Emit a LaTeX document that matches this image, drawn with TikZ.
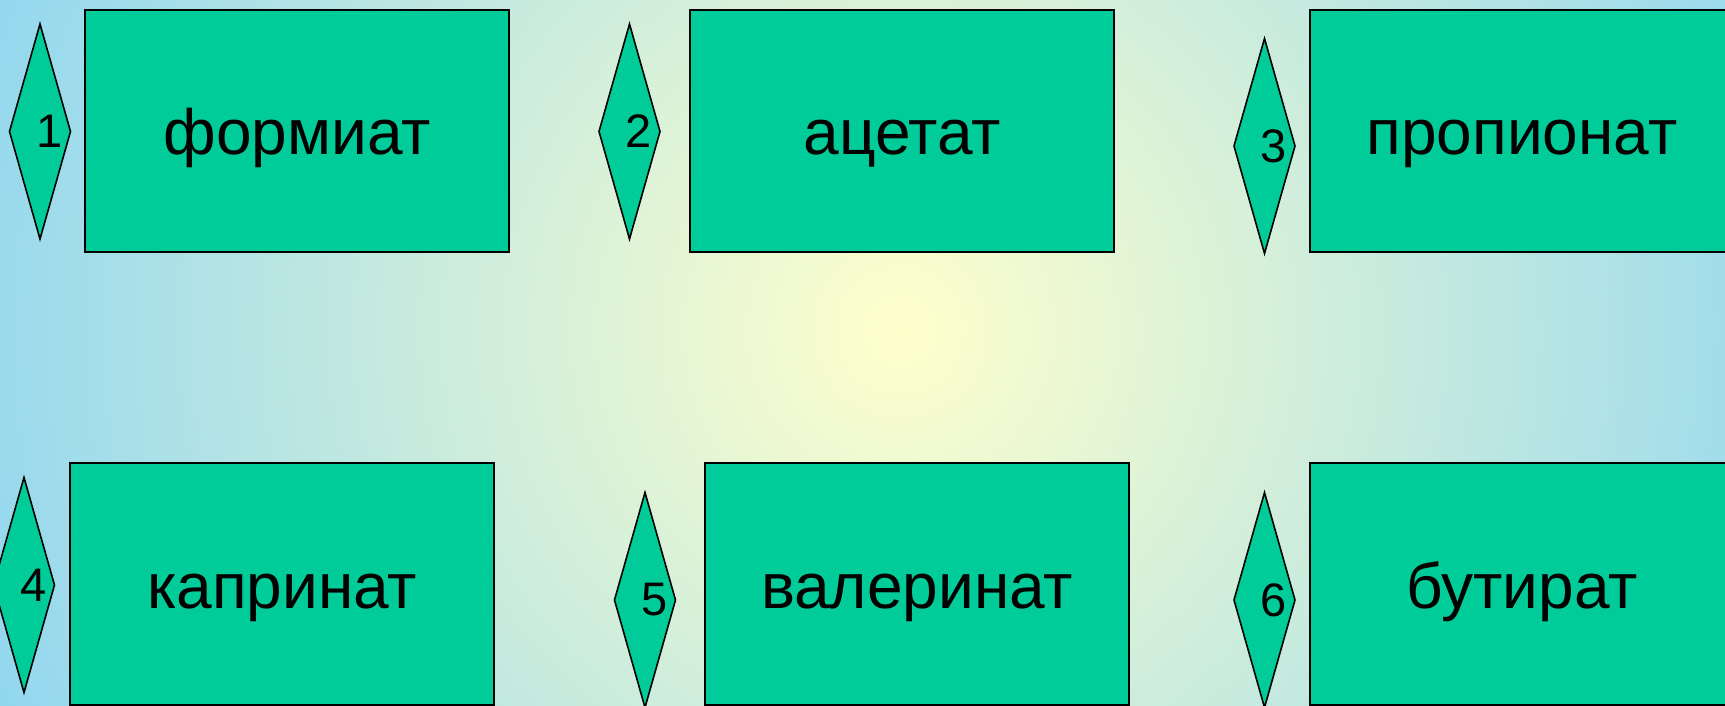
\documentclass[tikz,border=0pt]{standalone}
\usepackage{fontspec}
\setmainfont{Liberation Sans}
\usetikzlibrary{shapes.geometric}
\definecolor{bgcentre}{HTML}{FFFFCC}
\definecolor{bgedge}{HTML}{8DD5F1}
\definecolor{tile}{HTML}{00CC99}
\pgfdeclareradialshading{glow}{\pgfpoint{0bp}{0bp}}{color(0bp)=(bgcentre); color(26bp)=(bgedge); color(100bp)=(bgedge)}
\begin{document}
\begin{tikzpicture}
[every node/.style={inner sep=0pt, outer sep=0pt},
 salt/.style={rectangle, minimum width=424pt, minimum height=242pt, fill=tile, line width=1.6pt, draw=black, text height=60pt, text depth=12pt, font=\fontsize{64}{77}\selectfont},
 rank/.style={diamond, minimum width=61pt, minimum height=215pt, fill=tile, line width=1.6pt, draw=black, label={[xshift=9.5pt, font=\fontsize{47}{56}\selectfont]center:#1}}]
\useasboundingbox (0pt, 0pt) rectangle (1725pt, -706pt);
\clip (0pt, 0pt) rectangle (1725pt, -706pt);
\shade [shading=glow] (-80pt, 650pt) rectangle (1880pt, -1310pt);
\node (formiat) [salt] at (297pt, -131pt) {формиат};
\node (acetat) [salt] at (902pt, -131pt) {ацетат};
\node (propionat) [salt] at (1522pt, -131pt) {пропионат};
\node (kaprinat) [salt] at (282pt, -584pt) {капринат};
\node (valerinat) [salt] at (917pt, -584pt) {валеринат};
\node (butirat) [salt] at (1522pt, -584pt) {бутират};
\node (1) [rank=1] at (40pt, -131.5pt) {};
\node (2) [rank=2] at (629.5pt, -131.5pt) {};
\node (3) [rank=3] at (1264.5pt, -146pt) {};
\node (4) [rank=4] at (24pt, -585pt) {};
\node (5) [rank=5] at (645pt, -600pt) {};
\node (6) [rank=6] at (1264.5pt, -600pt) {};
\end{tikzpicture}
\end{document}
